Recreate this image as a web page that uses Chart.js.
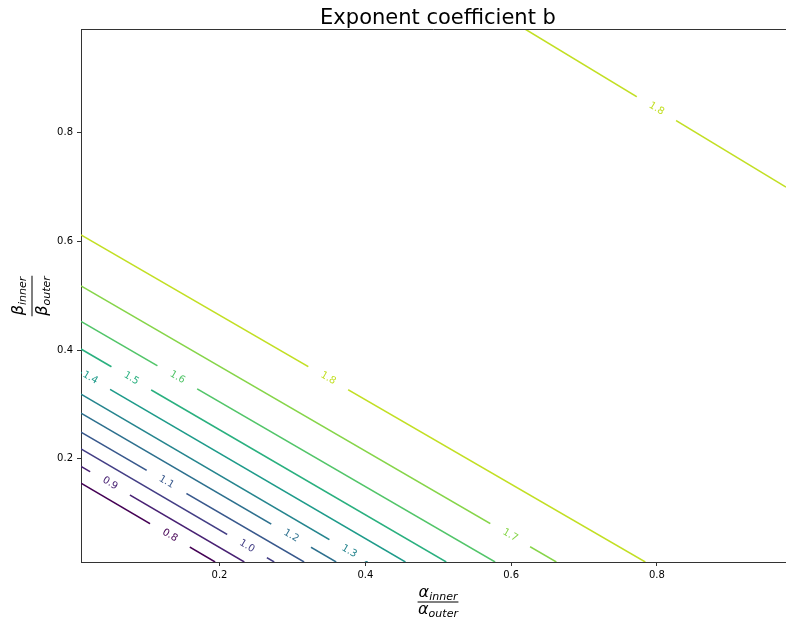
<!DOCTYPE html>
<html>
<head>
<meta charset="utf-8">
<script src="https://cdn.jsdelivr.net/npm/chart.js@4.4.1/dist/chart.umd.min.js"></script>
<style>
  html, body { margin: 0; padding: 0; background: #fff; }
</style>
</head>
<body>
<canvas id="myChart" width="786" height="620"></canvas>
<script>
// contour levels, one entry per drawn line (1.8 shows up twice)
const levels = ['0.8', '0.9', '1.0', '1.1', '1.2', '1.3', '1.4', '1.5', '1.6', '1.7', '1.8', '1.8'];

// each contour is a straight line: start and end point
const startX = [0.01, 0.01, 0.01, 0.01, 0.01, 0.01, 0.01, 0.01, 0.01, 0.01, 0.01, 0.619];
const startY = [0.155, 0.186, 0.218, 0.249, 0.284, 0.319, 0.359, 0.402, 0.453, 0.518, 0.612, 0.991];
const endX = [0.194, 0.234, 0.275, 0.316, 0.360, 0.403, 0.455, 0.511, 0.578, 0.662, 0.784, 0.977];
const endY = [0.01, 0.01, 0.01, 0.01, 0.01, 0.01, 0.01, 0.01, 0.01, 0.01, 0.01, 0.700];

// inline label positions
const labelX = [0.132, 0.050, 0.238, 0.128, 0.298, 0.379, 0.023, 0.079, 0.143, 0.599, 0.349, 0.800];
const labelY = [0.059, 0.155, 0.040, 0.159, 0.058, 0.032, 0.350, 0.348, 0.352, 0.060, 0.348, 0.846];

// viridis colours for the levels
const lineColors = ['#440154', '#482173', '#433e85', '#38588c', '#2d708e', '#25858e',
                    '#1e9b8a', '#2ab07f', '#52c569', '#86d549', '#c2df23', '#c2df23'];

const xTicks = [0.2, 0.4, 0.6, 0.8];
const yTicks = [0.2, 0.4, 0.6, 0.8];

// white boxes + text along each contour line (like clabel inline)
const contourLabels = {
    id: 'contourLabels',
    afterDatasetsDraw(chart) {
        const { ctx, chartArea: a, scales: { x, y } } = chart;
        ctx.save();
        ctx.beginPath();
        ctx.rect(a.left + 1, a.top + 1, a.right - a.left - 1, a.bottom - a.top - 2);
        ctx.clip();
        ctx.font = '10px "DejaVu Sans"';
        ctx.textAlign = 'center';
        ctx.textBaseline = 'middle';
        levels.forEach((lv, i) => {
            const x1 = x.getPixelForValue(startX[i]), y1 = y.getPixelForValue(startY[i]);
            const x2 = x.getPixelForValue(endX[i]), y2 = y.getPixelForValue(endY[i]);
            const dx = x2 - x1, dy = y2 - y1;
            const ang = Math.atan2(dy, dx);
            // put the label on the line
            const lx = x.getPixelForValue(labelX[i]), ly = y.getPixelForValue(labelY[i]);
            const t = ((lx - x1) * dx + (ly - y1) * dy) / (dx * dx + dy * dy);
            ctx.save();
            ctx.translate(x1 + t * dx, y1 + t * dy);
            ctx.rotate(ang);
            ctx.fillStyle = '#fff';
            ctx.fillRect(-23, -5, 46, 10);
            ctx.fillStyle = lineColors[i];
            ctx.fillText(lv, 0, 0);
            ctx.restore();
        });
        ctx.restore();
    }
};

// draws a math-like fraction  sym_num / sym_den centred at (0,0)
function drawFrac(ctx, sym, numSub, denSub, numBase, denBase) {
    const big = 'italic 16px "DejaVu Sans"';
    const small = 'italic 11px "DejaVu Sans"';
    ctx.font = big;
    const gw = ctx.measureText(sym).width;
    ctx.font = small;
    const nw = ctx.measureText(numSub).width;
    const dw = ctx.measureText(denSub).width;
    const w = Math.max(gw + nw, gw + dw) + 1;
    ctx.fillStyle = '#000';
    ctx.textAlign = 'left';
    ctx.textBaseline = 'alphabetic';

    let x0 = -(gw + nw) / 2;
    ctx.font = big;
    ctx.fillText(sym, x0, numBase);
    ctx.font = small;
    ctx.fillText(numSub, x0 + gw, numBase + 3);

    x0 = -(gw + dw) / 2;
    ctx.font = big;
    ctx.fillText(sym, x0, denBase);
    ctx.font = small;
    ctx.fillText(denSub, x0 + gw, denBase + 3);

    ctx.fillRect(-w / 2, -0.5, w, 1);
}

const axisText = {
    id: 'axisText',
    afterDraw(chart) {
        const { ctx, chartArea: a } = chart;
        ctx.save();
        // top spine
        ctx.strokeStyle = '#333';
        ctx.lineWidth = 1;
        ctx.beginPath();
        ctx.moveTo(a.left, a.top + 0.5);
        ctx.lineTo(a.right, a.top + 0.5);
        ctx.stroke();

        // title
        ctx.fillStyle = '#000';
        ctx.font = '21px "DejaVu Sans"';
        ctx.textAlign = 'center';
        ctx.textBaseline = 'alphabetic';
        ctx.fillText('Exponent coefficient b', 438, 24);

        // x label
        ctx.save();
        ctx.translate(438, 602);
        drawFrac(ctx, 'α', 'inner', 'outer', -5, 12);
        ctx.restore();

        // y label
        ctx.save();
        ctx.translate(32, 296);
        ctx.rotate(-Math.PI / 2);
        drawFrac(ctx, 'β', 'inner', 'outer', -9, 15);
        ctx.restore();
        ctx.restore();
    }
};

const ctx = document.getElementById('myChart').getContext('2d');

const myChart = new Chart(ctx, {
    type: 'scatter',
    data: {
        datasets: levels.map((lv, i) => ({
            label: lv,
            data: [{ x: startX[i], y: startY[i] }, { x: endX[i], y: endY[i] }],
            showLine: true,
            borderColor: lineColors[i],
            borderWidth: 1.5,
            pointRadius: 0,
            fill: false,
        })),
    },
    options: {
        responsive: false,
        animation: false,
        layout: { padding: { top: 29, right: 0, left: 0, bottom: 0 } },
        plugins: {
            legend: { display: false },
            tooltip: { enabled: false },
        },
        scales: {
            x: {
                type: 'linear',
                min: 0.01,
                max: 0.977,
                afterFit(s) { s.height = 58; },
                afterBuildTicks(s) { s.ticks = xTicks.map(v => ({ value: v })); },
                grid: { drawOnChartArea: false, drawTicks: true, tickLength: 4, color: '#333' },
                border: { display: true, color: '#333', width: 1 },
                ticks: {
                    font: { family: 'DejaVu Sans', size: 10 },
                    color: '#000',
                    padding: 3,
                    maxRotation: 0,
                    callback: v => v.toFixed(1),
                },
            },
            y: {
                type: 'linear',
                min: 0.01,
                max: 0.991,
                afterFit(s) { s.width = 81; },
                afterBuildTicks(s) { s.ticks = yTicks.map(v => ({ value: v })); },
                grid: { drawOnChartArea: false, drawTicks: true, tickLength: 4, color: '#333' },
                border: { display: true, color: '#333', width: 1 },
                ticks: {
                    font: { family: 'DejaVu Sans', size: 10 },
                    color: '#000',
                    padding: 4,
                    callback: v => v.toFixed(1),
                },
            },
        },
    },
    plugins: [contourLabels, axisText],
});
</script>
</body>
</html>
